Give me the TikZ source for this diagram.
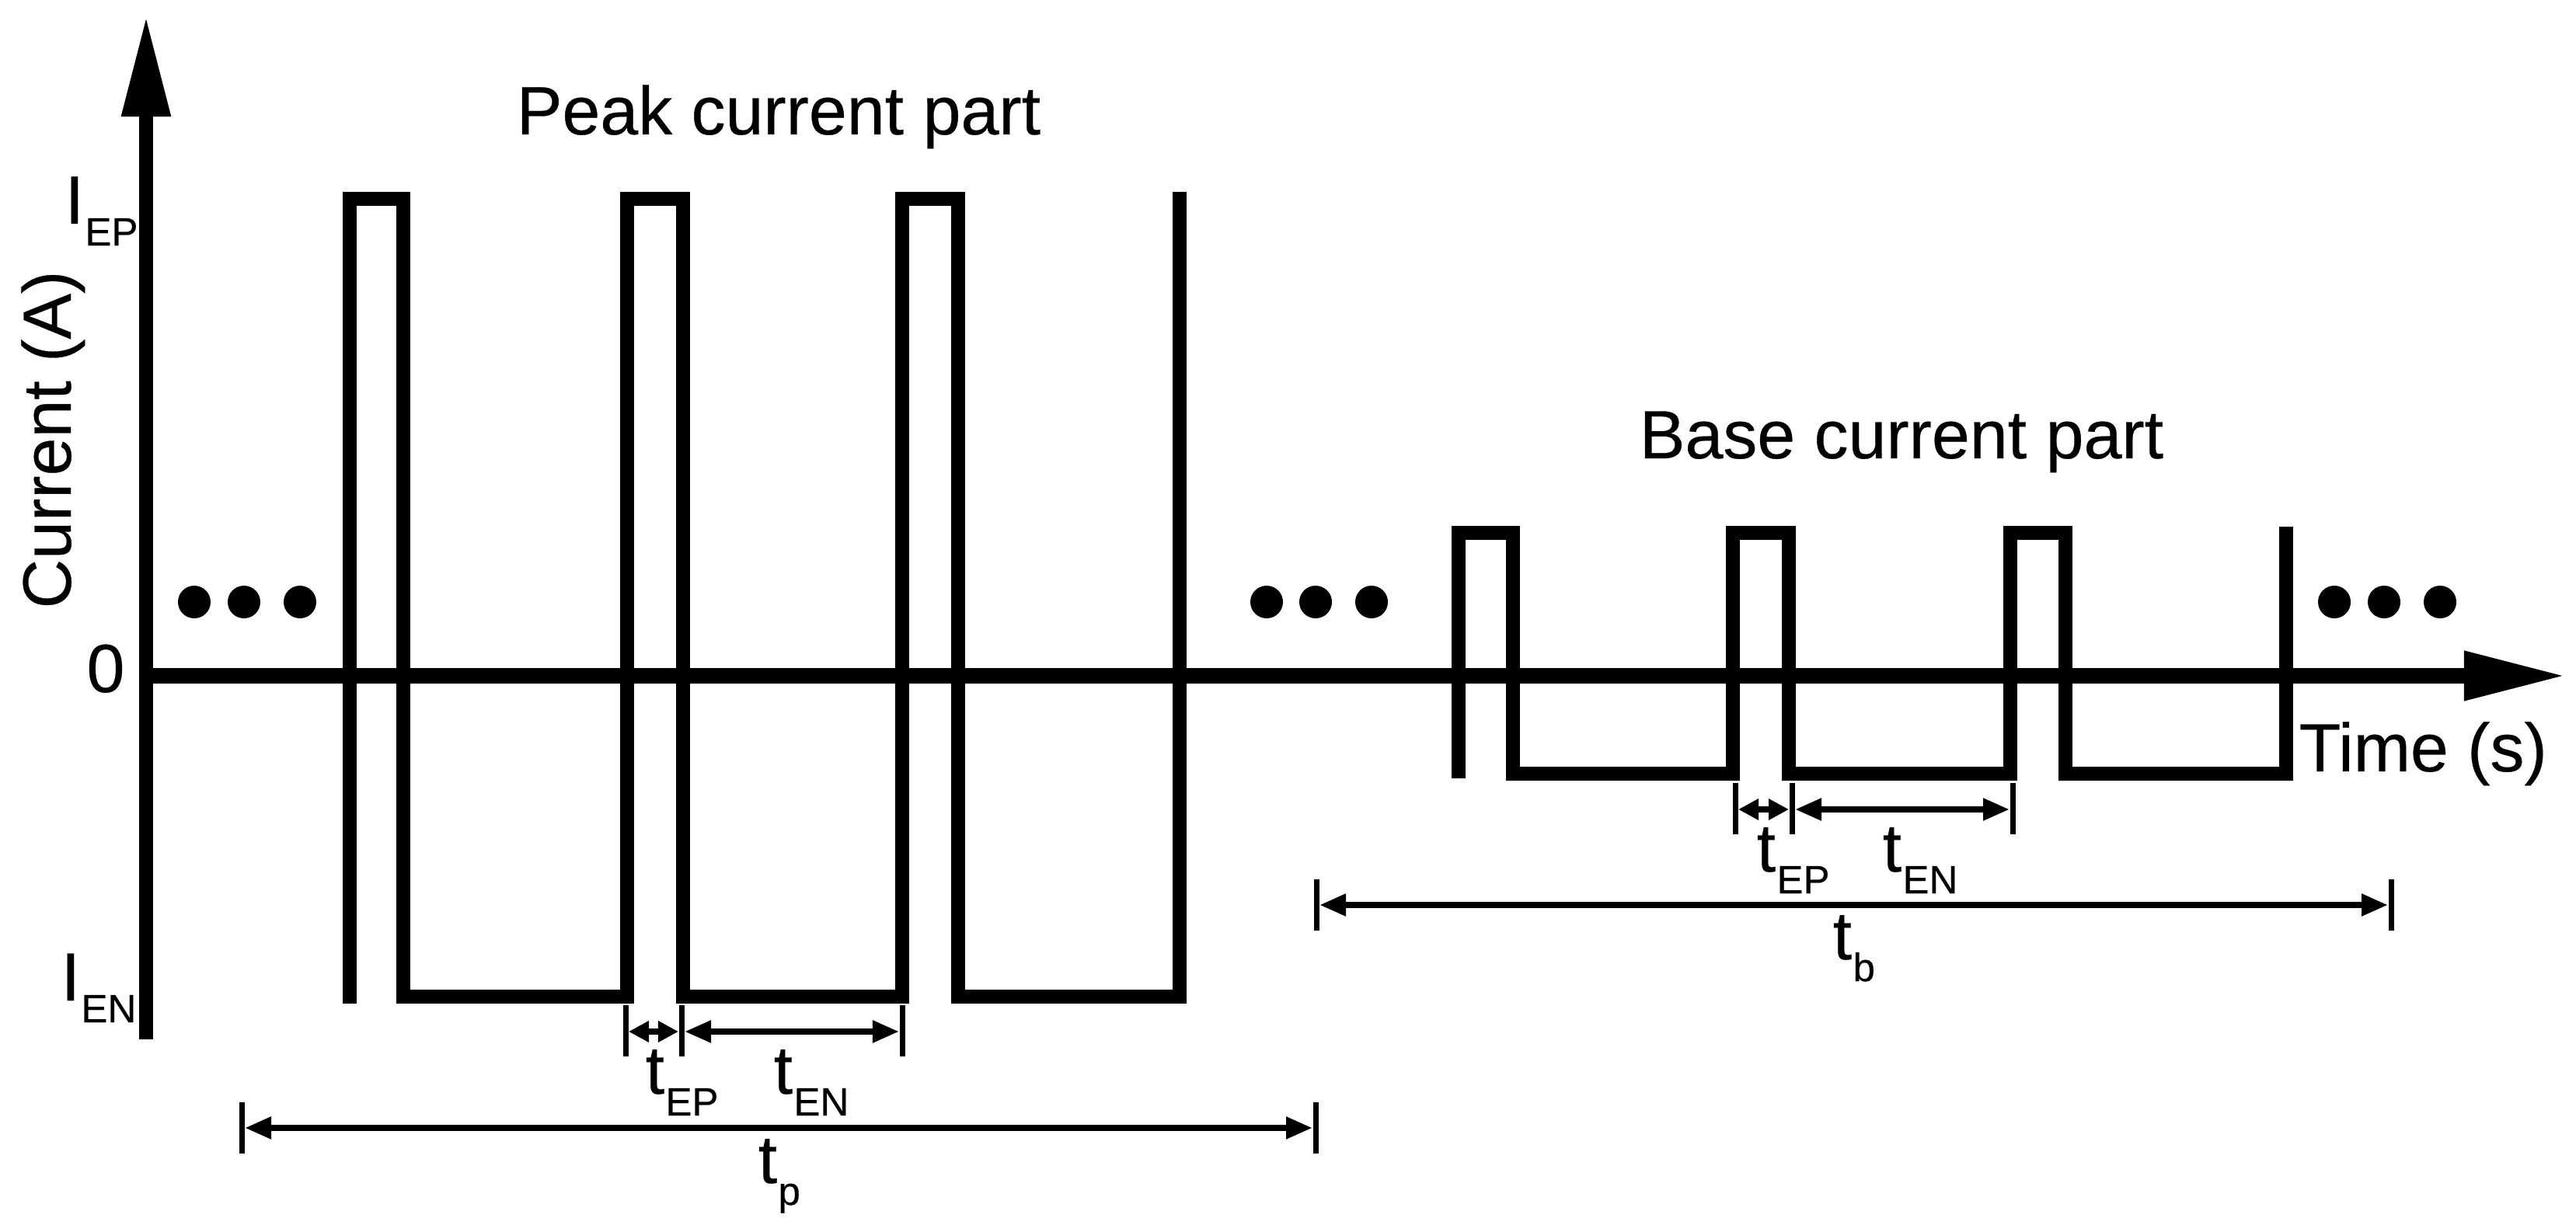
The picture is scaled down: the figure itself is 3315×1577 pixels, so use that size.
\documentclass[tikz,border=0pt]{standalone}
\usepackage{fontspec}
\setmainfont[FakeBold=0.35]{Liberation Sans}
\usetikzlibrary{arrows.meta}
\newcommand{\sublab}[3][8pt]{#2\kern0.4pt\raisebox{-#1}{\fontsize{14.5}{15}\selectfont #3}}
\tikzset{
  yaxisline/.style={line width=0.18cm,-{Triangle[length=1.3cm,width=0.59cm]}},
  xaxisline/.style={line width=0.195cm,-{Triangle[length=1.32cm,width=0.59cm]}},
  wave/.style={line width=0.175cm,line join=miter},
  tickmark/.style={line width=0.07cm},
  dimlong/.style={line width=0.08cm,{Triangle[length=0.34cm,width=0.27cm]}-{Triangle[length=0.34cm,width=0.27cm]},shorten <=0.04cm,shorten >=0.04cm},
  dimshort/.style={line width=0.08cm,{Triangle[length=0.26cm,width=0.26cm]}-{Triangle[length=0.26cm,width=0.26cm]},shorten <=0.04cm,shorten >=0.04cm},
  dotmark/.style={circle,fill=black,inner sep=0pt,minimum size=0.42cm},
  lab/.style={font=\fontsize{25}{28}\selectfont,inner sep=0pt,text=black},
}
\begin{document}
\begin{tikzpicture}[x=0.01cm,y=-0.01cm]
\useasboundingbox (0,0) rectangle (3315,1577);
% axes
\coordinate (origin) at (188,870);
\coordinate (ybot) at (188,1338);
\coordinate (ytop) at (188,20);
\coordinate (xend) at (3303,870);
\draw[yaxisline] (ybot) -- (ytop);
\draw[xaxisline] (origin) -- (xend);
% peak current waveform
\draw[wave] (450,1292) -- (450,256) -- (519,256) -- (519,1283) -- (807,1283) -- (807,256) -- (879,256) -- (879,1283) -- (1161,1283) -- (1161,256) -- (1233,256) -- (1233,1283) -- (1518,1283) -- (1518,247);
% base current waveform
\draw[wave] (1877,1002) -- (1877,686) -- (1947,686) -- (1947,996) -- (2230,996) -- (2230,686) -- (2302,686) -- (2302,996) -- (2587,996) -- (2587,686) -- (2658,686) -- (2658,996) -- (2942,996) -- (2942,678);
% dots
\foreach \n/\x in {a/250,b/314,c/386,d/1630,e/1693,f/1765,g/3004,h/3068,i/3140}
  \node[dotmark] (dot\n) at (\x,775) {};
% dimension coordinates
\coordinate (pa) at (805,1328);
\coordinate (pb) at (877,1328);
\coordinate (pc) at (1161,1328);
\coordinate (pl) at (311,1452);
\coordinate (pr) at (1693,1452);
\coordinate (ba) at (2233,1042);
\coordinate (bb) at (2306,1042);
\coordinate (bc) at (2590,1042);
\coordinate (bl) at (1694,1165);
\coordinate (br) at (3077,1165);
\foreach \c in {pa,pb,pc,ba,bb,bc}
  \draw[tickmark] ([yshift=0.34cm]\c) -- ([yshift=-0.32cm]\c);
\foreach \c in {pl,pr,bl,br}
  \draw[tickmark] ([yshift=0.33cm]\c) -- ([yshift=-0.33cm]\c);
\draw[dimshort] (pa) -- (pb);
\draw[dimlong] (pb) -- (pc);
\draw[dimlong] (pl) -- (pr);
\draw[dimshort] (ba) -- (bb);
\draw[dimlong] (bb) -- (bc);
\draw[dimlong] (bl) -- (br);
% labels
\node[lab,anchor=base] (peak) at (1002,173) {Peak current part};
\node[lab,anchor=base] (base) at (2447,590) {Base current part};
\node[lab,anchor=base,rotate=90] (cur) at (91,566) {Current (A)};
\node[lab,anchor=base west] (time) at (2958,993) {Time (s)};
\node[lab,anchor=base] (zero) at (136,891) {0};
\node[lab,anchor=base west] (iep) at (83,288) {\sublab{I}{EP}};
\node[lab,anchor=base west] (ien) at (78,1288) {\sublab{I}{EN}};
\node[lab,anchor=base west] (ptep) at (830,1408) {\sublab{t}{EP}};
\node[lab,anchor=base west] (pten) at (995,1408) {\sublab{t}{EN}};
\node[lab,anchor=base west] (tp) at (975,1523) {\sublab{t}{p}};
\node[lab,anchor=base west] (btep) at (2260,1122) {\sublab{t}{EP}};
\node[lab,anchor=base west] (bten) at (2422,1122) {\sublab{t}{EN}};
\node[lab,anchor=base west] (tb) at (2358,1235) {\sublab{t}{b}};
\end{tikzpicture}
\end{document}
